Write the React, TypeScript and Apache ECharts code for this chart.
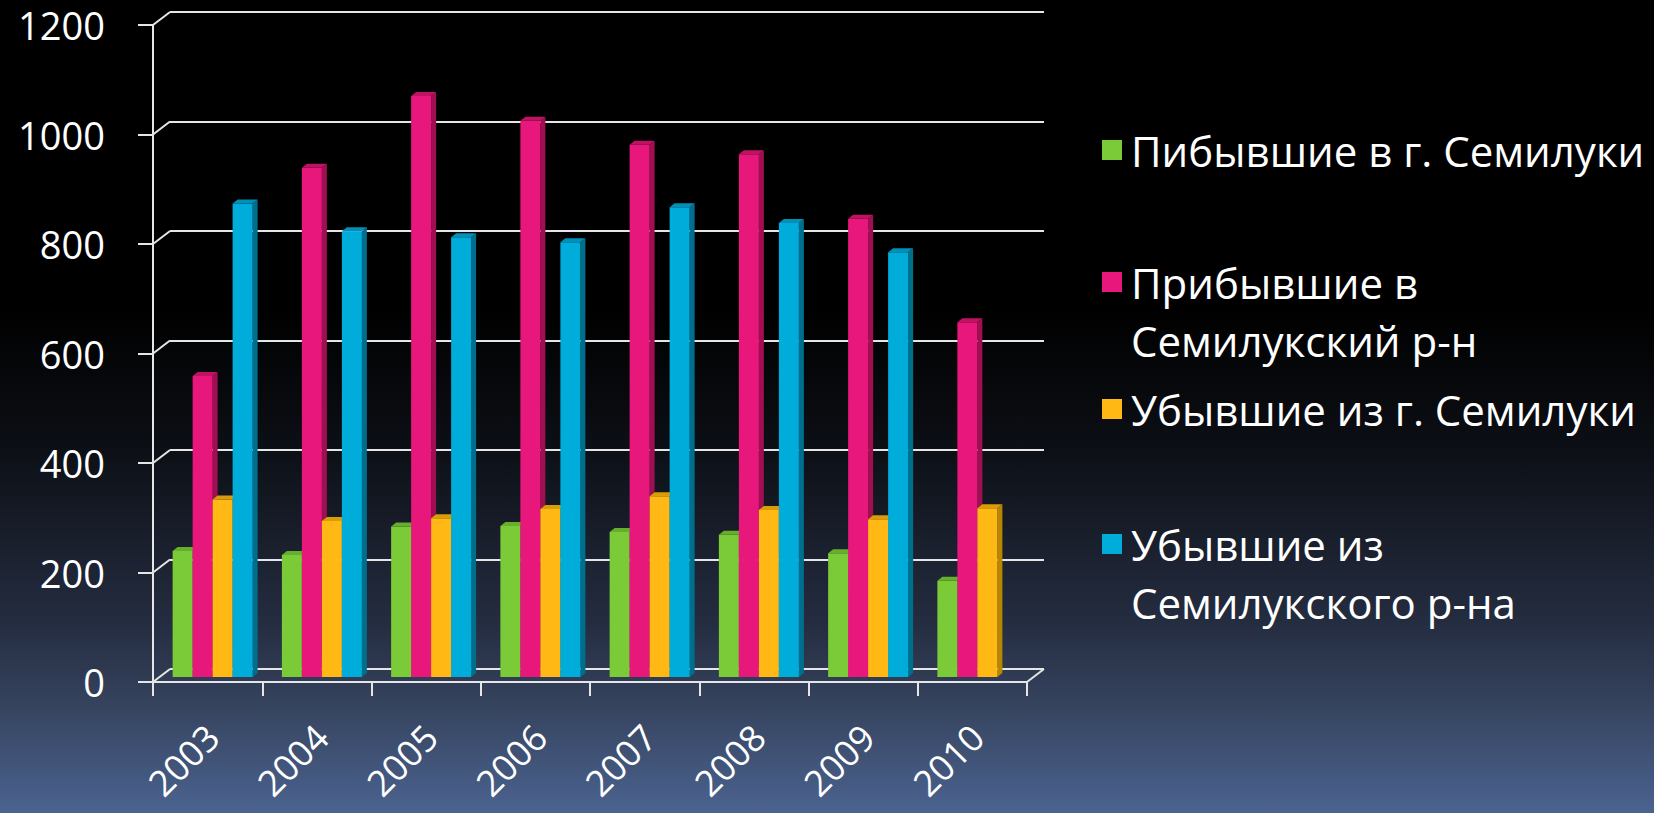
import React, { useEffect, useRef } from 'react';
import * as echarts from 'echarts';

const categories = ['2003', '2004', '2005', '2006', '2007', '2008', '2009', '2010'];
const seriesNames = [
  'Пибывшие в г. Семилуки',
  'Прибывшие в Семилукский р-н',
  'Убывшие из г. Семилуки',
  'Убывшие из Семилукского р-на',
];
const legendLabels = [
  'Пибывшие в г. Семилуки',
  'Прибывшие в\nСемилукский р-н',
  'Убывшие из г. Семилуки',
  'Убывшие из\nСемилукского р-на',
];
const arrivedCity = [230, 223, 275, 276, 265, 260, 226, 176];
const arrivedDistrict = [550, 930, 1061, 1016, 972, 955, 837, 648];
const leftCity = [324, 285, 290, 307, 330, 305, 288, 308];
const leftDistrict: (number | null)[] = [865, 814, 803, 794, 858, 829, 776, null];
const yTicks = [0, 200, 400, 600, 800, 1000, 1200];

const seriesValues = [arrivedCity, arrivedDistrict, leftCity, leftDistrict];

const palette = [
  { front: '#7BCB38', side: '#5A9B26', top: '#66AE2C' },
  { front: '#E8177B', side: '#A00F52', top: '#C01262' },
  { front: '#FFB814', side: '#B88600', top: '#D99E06' },
  { front: '#00ACDA', side: '#006F8E', top: '#0290B8' },
];

const LINE = '#e6e6e6';
const FONT = 'Open Sans';

export default function App() {
  const ref = useRef<HTMLDivElement>(null);

  useEffect(() => {
    if (!ref.current) return;
    const chart = echarts.init(ref.current, undefined, { renderer: 'svg' });

    const depthX = 17;
    const depthY = 13;

    const connectorSeries = {
      type: 'custom',
      xAxisIndex: 0,
      yAxisIndex: 0,
      clip: false,
      silent: true,
      data: yTicks.map((v) => [0, v]),
      encode: { x: 0, y: 1 },
      renderItem: (params: any, api: any) => {
        const v = api.value(1);
        const p = api.coord([0, v]);
        const w = api.size([1, 0])[0];
        const xl = p[0] - w / 2;
        const children: any[] = [
          {
            type: 'line',
            shape: { x1: xl, y1: p[1], x2: xl + depthX, y2: p[1] - depthY },
            style: { stroke: LINE, lineWidth: 2 },
          },
        ];
        if (v === 0) {
          const xr = xl + w * categories.length;
          children.push({
            type: 'line',
            shape: { x1: xr, y1: p[1], x2: xr + depthX, y2: p[1] - depthY },
            style: { stroke: LINE, lineWidth: 2 },
          });
        }
        return { type: 'group', children };
      },
    };

    const barSeries = seriesValues.map((vals, s) => ({
      type: 'custom',
      name: seriesNames[s],
      xAxisIndex: 2,
      yAxisIndex: 2,
      clip: false,
      itemStyle: { color: palette[s].front },
      data: vals
        .map((v, i) => (v == null ? null : [i, v]))
        .filter((d) => d != null),
      encode: { x: 0, y: 1 },
      renderItem: (params: any, api: any) => {
        const i = api.value(0);
        const v = api.value(1);
        const base = api.coord([i, 0]);
        const top = api.coord([i, v]);
        const catW = api.size([1, 0])[0];
        const bw = (catW * 20) / 109.25;
        const x0 = base[0] - 2 * bw + s * bw;
        const x1 = x0 + bw;
        const dx = 5;
        const dy = 4;
        const c = palette[s];
        return {
          type: 'group',
          children: [
            {
              type: 'polygon',
              shape: {
                points: [
                  [x1, top[1]],
                  [x1 + dx, top[1] - dy],
                  [x1 + dx, base[1] - dy],
                  [x1, base[1]],
                ],
              },
              style: { fill: c.side },
            },
            {
              type: 'rect',
              shape: { x: x0, y: top[1], width: bw, height: base[1] - top[1] },
              style: { fill: c.front },
            },
            {
              type: 'polygon',
              shape: {
                points: [
                  [x0, top[1]],
                  [x0 + dx, top[1] - dy],
                  [x1 + dx, top[1] - dy],
                  [x1, top[1]],
                ],
              },
              style: { fill: c.top },
            },
          ],
        };
      },
    }));

    const legendCenters = [150, 282, 409, 544];
    const legends = seriesNames.map((name, k) => {
      const twoLine = legendLabels[k].includes('\n');
      return {
        show: true,
        left: 1102,
        top: legendCenters[k] - (twoLine ? 87 : 29),
        orient: 'vertical',
        padding: 0,
        itemGap: 0,
        itemWidth: 20,
        itemHeight: 20,
        icon: 'rect',
        selectedMode: false,
        data: [name],
        itemStyle: { borderWidth: 0 },
        // a leading blank line keeps the first text line level with the icon
        formatter: () => (twoLine ? '\n' + legendLabels[k] : legendLabels[k]),
        textStyle: {
          color: '#ffffff',
          fontSize: 42,
          fontFamily: FONT,
          lineHeight: 58,
          padding: [0, 0, 0, 4],
        },
      };
    });

    const gridBase = { outerBoundsMode: 'none', containLabel: false };

    const option: any = {
      animation: false,
      backgroundColor: {
        type: 'linear',
        x: 0,
        y: 0,
        x2: 0,
        y2: 1,
        colorStops: [
          { offset: 0, color: '#000000' },
          { offset: 0.38, color: '#000000' },
          { offset: 0.55, color: '#0c0f15' },
          { offset: 0.77, color: '#252d41' },
          { offset: 0.87, color: '#36445f' },
          { offset: 1, color: '#4b6390' },
        ],
      },
      legend: legends,
      grid: [
        { ...gridBase, left: 153, top: 25, width: 874, height: 657 },
        { ...gridBase, left: 170, top: 12, width: 874, height: 657 },
        { ...gridBase, left: 158, top: 20, width: 874, height: 657 },
      ],
      xAxis: [
        {
          gridIndex: 0,
          type: 'category',
          data: categories,
          boundaryGap: true,
          axisLine: { show: true, lineStyle: { color: LINE, width: 2 } },
          axisTick: { show: true, length: 14, interval: 0, lineStyle: { color: LINE, width: 2 } },
          axisLabel: { show: false },
          splitLine: { show: false },
        },
        {
          gridIndex: 1,
          type: 'category',
          data: categories,
          show: false,
        },
        {
          gridIndex: 2,
          type: 'category',
          data: categories,
          boundaryGap: true,
          axisLine: { show: false },
          axisTick: { show: false },
          splitLine: { show: false },
          axisLabel: {
            interval: 0,
            rotate: 45,
            margin: 54,
            color: '#ffffff',
            fontSize: 36,
            fontFamily: FONT,
          },
        },
      ],
      yAxis: [
        {
          gridIndex: 0,
          type: 'value',
          min: 0,
          max: 1200,
          interval: 200,
          axisLine: { show: true, lineStyle: { color: LINE, width: 2 } },
          axisTick: { show: true, length: 15, lineStyle: { color: LINE, width: 2 } },
          axisLabel: {
            margin: 48,
            color: '#ffffff',
            fontSize: 38,
            fontFamily: FONT,
            formatter: (v: number) => String(v),
          },
          splitLine: { show: false },
        },
        {
          gridIndex: 1,
          type: 'value',
          min: 0,
          max: 1200,
          interval: 200,
          axisLine: { show: false },
          axisTick: { show: false },
          axisLabel: { show: false },
          splitLine: { show: true, lineStyle: { color: LINE, width: 2 } },
        },
        {
          gridIndex: 2,
          type: 'value',
          min: 0,
          max: 1200,
          interval: 200,
          show: false,
          splitLine: { show: false },
        },
      ],
      series: [connectorSeries, ...barSeries],
    };

    chart.setOption(option);
    return () => chart.dispose();
  }, []);

  return (
    <div
      ref={ref}
      style={{ position: 'fixed', left: 0, top: 0, width: 1654, height: 813 }}
    />
  );
}
